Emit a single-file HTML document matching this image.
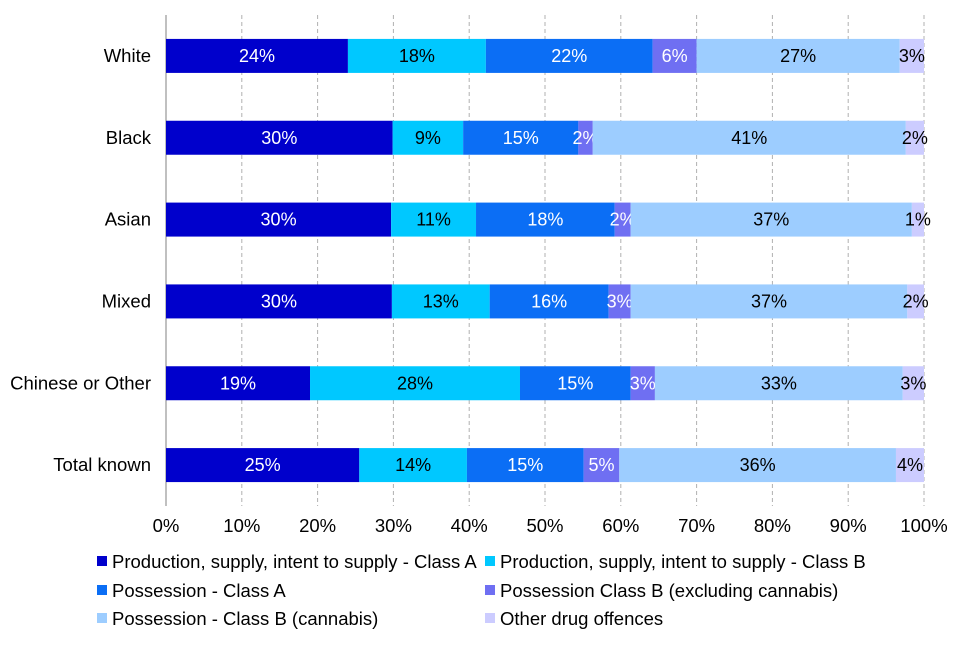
<!DOCTYPE html>
<html><head><meta charset="utf-8"><style>
body{margin:0;background:#fff;font-family:"Liberation Sans",Arial,sans-serif;}
svg text{font-family:"Liberation Sans",Arial,sans-serif;}
</style></head><body>
<svg id="chart" width="960" height="640"></svg>
<script>
const categories=["White","Black","Asian","Mixed","Chinese or Other","Total known"];
const seriesNames=["Production, supply, intent to supply - Class A","Production, supply, intent to supply - Class B","Possession - Class A","Possession Class B (excluding cannabis)","Possession - Class B (cannabis)","Other drug offences"];
const prodA=[24.0,29.9,29.7,29.8,19.0,25.5];
const prodB=[18.2,9.3,11.2,12.9,27.7,14.2];
const possA=[22.0,15.2,18.3,15.7,14.6,15.4];
const possBx=[5.8,1.9,2.1,2.9,3.2,4.7];
const possBc=[26.8,41.3,37.1,36.5,32.7,36.5];
const other=[3.2,2.4,1.6,2.2,2.8,3.7];
const labelsText=[["24%","18%","22%","6%","27%","3%"],["30%","9%","15%","2%","41%","2%"],["30%","11%","18%","2%","37%","1%"],["30%","13%","16%","3%","37%","2%"],["19%","28%","15%","3%","33%","3%"],["25%","14%","15%","5%","36%","4%"]];
const xTicks=[0,10,20,30,40,50,60,70,80,90,100];

(function(){
const series=[prodA,prodB,possA,possBx,possBc,other];
const colors=["#0000cc","#00c8ff","#0b6ef5","#6f6ff2","#9dcdff","#ccccff"];
const textColors=["#fff","#000","#fff","#fff","#000","#000"];
const svg=document.getElementById('chart');
const NS="http://www.w3.org/2000/svg";
const x0=166,x1=924,yTop=15,yBottom=506;
const FS='18.5';
const xs=v=>x0+(v/100)*(x1-x0);
const band=(yBottom-yTop)/categories.length;
const yc=i=>yTop+band*(i+0.5);
function mk(tag,attrs,parent){const e=document.createElementNS(NS,tag);for(const k in attrs)e.setAttribute(k,attrs[k]);(parent||svg).appendChild(e);return e;}
xTicks.forEach((t)=>{
 if(t>0){const g=mk('line',{x1:xs(t),x2:xs(t),y1:yTop,y2:yBottom,stroke:'#b0b0b0','stroke-dasharray':'4,3'});
 
 }
 const tx=mk('text',{x:xs(t),y:532,'text-anchor':'middle','font-size':FS,fill:'#000'});tx.textContent=t+'%';
 
 
});
const ax=mk('line',{x1:x0,x2:x0,y1:yTop,y2:yBottom,stroke:'#808080'});


categories.forEach((c,i)=>{
 const t=mk('text',{x:151,y:yc(i)+6,'text-anchor':'end','font-size':FS,fill:'#000'});t.textContent=c;
 
 
 let acc=0;
 series.forEach((s,j)=>{
  const v=s[i];
  const r=mk('rect',{x:xs(acc),y:yc(i)-17,width:xs(acc+v)-xs(acc),height:34,fill:colors[j]});
  
  
  const l=mk('text',{x:(xs(acc)+xs(acc+v))/2,y:yc(i)+6,'text-anchor':'middle','font-size':'18',fill:textColors[j]});
  l.textContent=labelsText[i][j];
  
  
  acc+=v;
 });
});
const legPos=[[97,568],[485,568],[97,597],[485,597],[97,625],[485,625]];
seriesNames.forEach((n,j)=>{
 const g=mk('g',{});
 
 
 mk('rect',{x:legPos[j][0],y:legPos[j][1]-12,width:10,height:10,fill:colors[j]},g);
 const t=mk('text',{x:legPos[j][0]+15,y:legPos[j][1],'font-size':FS,fill:'#000'},g);t.textContent=n;
});
})();
</script>
</body></html>
